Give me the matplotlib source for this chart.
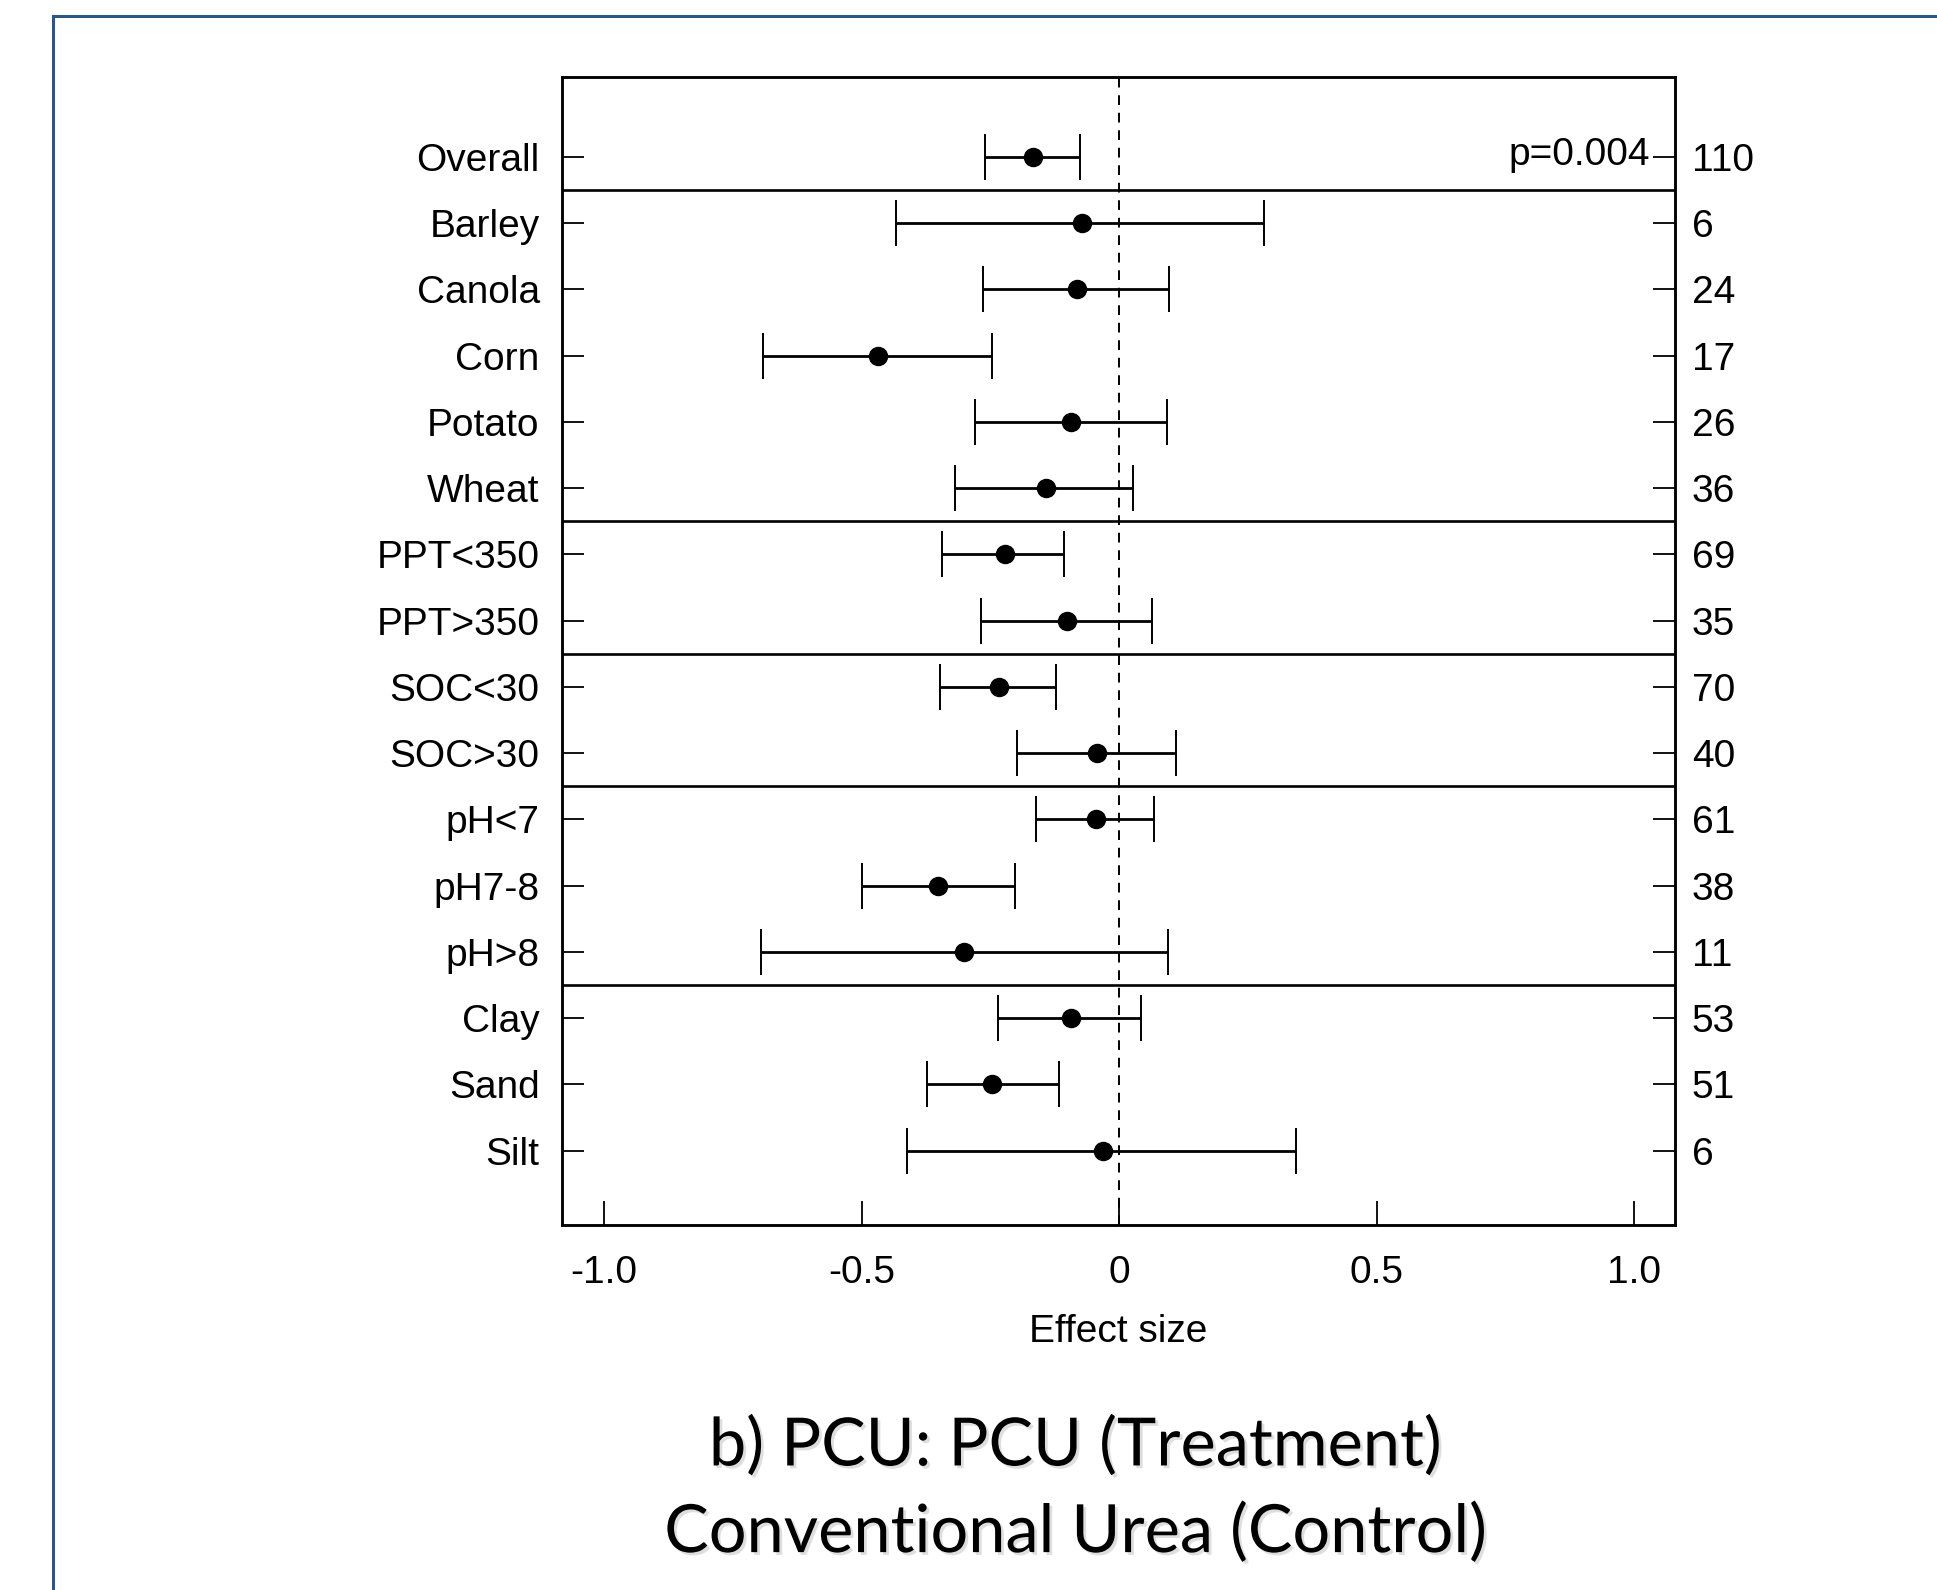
import matplotlib.pyplot as plt
import matplotlib.patheffects as pe
from matplotlib.lines import Line2D

plt.rcParams["font.family"] = ["Liberation Sans", "DejaVu Sans"]

# moderator groups, top to bottom
labels = ["Overall", "Barley", "Canola", "Corn", "Potato", "Wheat",
          "PPT<350", "PPT>350", "SOC<30", "SOC>30",
          "pH<7", "pH7-8", "pH>8", "Clay", "Sand", "Silt"]
counts = ["110", "6", "24", "17", "26", "36", "69", "35", "70", "40",
          "61", "38", "11", "53", "51", "6"]
effect = [-0.167, -0.073, -0.083, -0.469, -0.093, -0.143, -0.222, -0.101,
          -0.234, -0.043, -0.046, -0.352, -0.301, -0.093, -0.247, -0.031]
ci_low = [-0.261, -0.433, -0.265, -0.691, -0.281, -0.319, -0.345, -0.269,
          -0.349, -0.198, -0.161, -0.499, -0.696, -0.235, -0.373, -0.412]
ci_high = [-0.077, 0.281, 0.096, -0.248, 0.093, 0.027, -0.107, 0.064,
           -0.123, 0.110, 0.068, -0.202, 0.094, 0.043, -0.118, 0.344]
# last row index of each block (a separator goes below it)
group_ends = [1, 6, 8, 10, 13]
p_text = "p=0.004"

xticks = [-1.0, -0.5, 0, 0.5, 1.0]
xtick_labels = ["-1.0", "-0.5", "0", "0.5", "1.0"]

fig = plt.figure(figsize=(19.37, 15.90), dpi=100)
ax = fig.add_axes([0.2901, 0.2296, 0.5747, 0.7222])

rows = list(range(1, len(labels) + 1))
err = [[e - lo for e, lo in zip(effect, ci_low)],
       [hi - e for e, hi in zip(effect, ci_high)]]
ax.errorbar(effect, rows, xerr=err, fmt="o", color="black", ms=13,
            elinewidth=2.0, capsize=16.5, capthick=1.4, zorder=3)

ax.axvline(0, color="black", lw=1.4, ls=(0, (5, 4)), zorder=1)
for g in group_ends:
    ax.axhline(g + 0.5, color="black", lw=1.9, zorder=2)

ax.text(1.031, 0.97, p_text, ha="right", va="center", fontsize=28)

ax.set_xlim(-1.082, 1.079)
ax.set_ylim(17.12, -0.21)
ax.set_xticks(xticks)
ax.set_xticklabels(xtick_labels)
ax.set_yticks(rows)
ax.set_yticklabels(labels)
ax.tick_params(axis="x", direction="in", length=17, width=1.3, pad=22,
               labelsize=28)
ax.tick_params(axis="y", direction="in", length=16, width=1.3, pad=16,
               labelsize=28)

# counts on the right side, with inward ticks
ax2 = ax.twinx()
ax2.set_ylim(ax.get_ylim())
ax2.set_yticks(rows)
ax2.set_yticklabels(counts)
ax2.tick_params(axis="y", direction="in", length=16, width=1.3, pad=12,
                labelsize=28)

for a in (ax, ax2):
    for s in a.spines.values():
        s.set_linewidth(1.8)

ax.set_xlabel("Effect size", fontsize=28, labelpad=16)

title_font = ["Lato", "DejaVu Sans"]
shadow = [pe.SimplePatchShadow(offset=(2, -2), shadow_rgbFace="0.75",
                               alpha=0.5), pe.Normal()]
fig.text(0.555, 0.0905, "b) PCU: PCU (Treatment)", ha="center",
         va="center", fontsize=48, family=title_font, path_effects=shadow)
fig.text(0.555, 0.036, "Conventional Urea (Control)", ha="center",
         va="center", fontsize=48, family=title_font, path_effects=shadow)

# blue slide frame
frame_col = "#2b5685"
fig.add_artist(Line2D([53 / 1937, 53 / 1937], [0, 1 - 16 / 1590],
                      color=frame_col, lw=2.2, transform=fig.transFigure))
fig.add_artist(Line2D([53 / 1937, 1], [1 - 16 / 1590, 1 - 16 / 1590],
                      color=frame_col, lw=2.2, transform=fig.transFigure))

fig.savefig("out.png", dpi=100, facecolor="white")
